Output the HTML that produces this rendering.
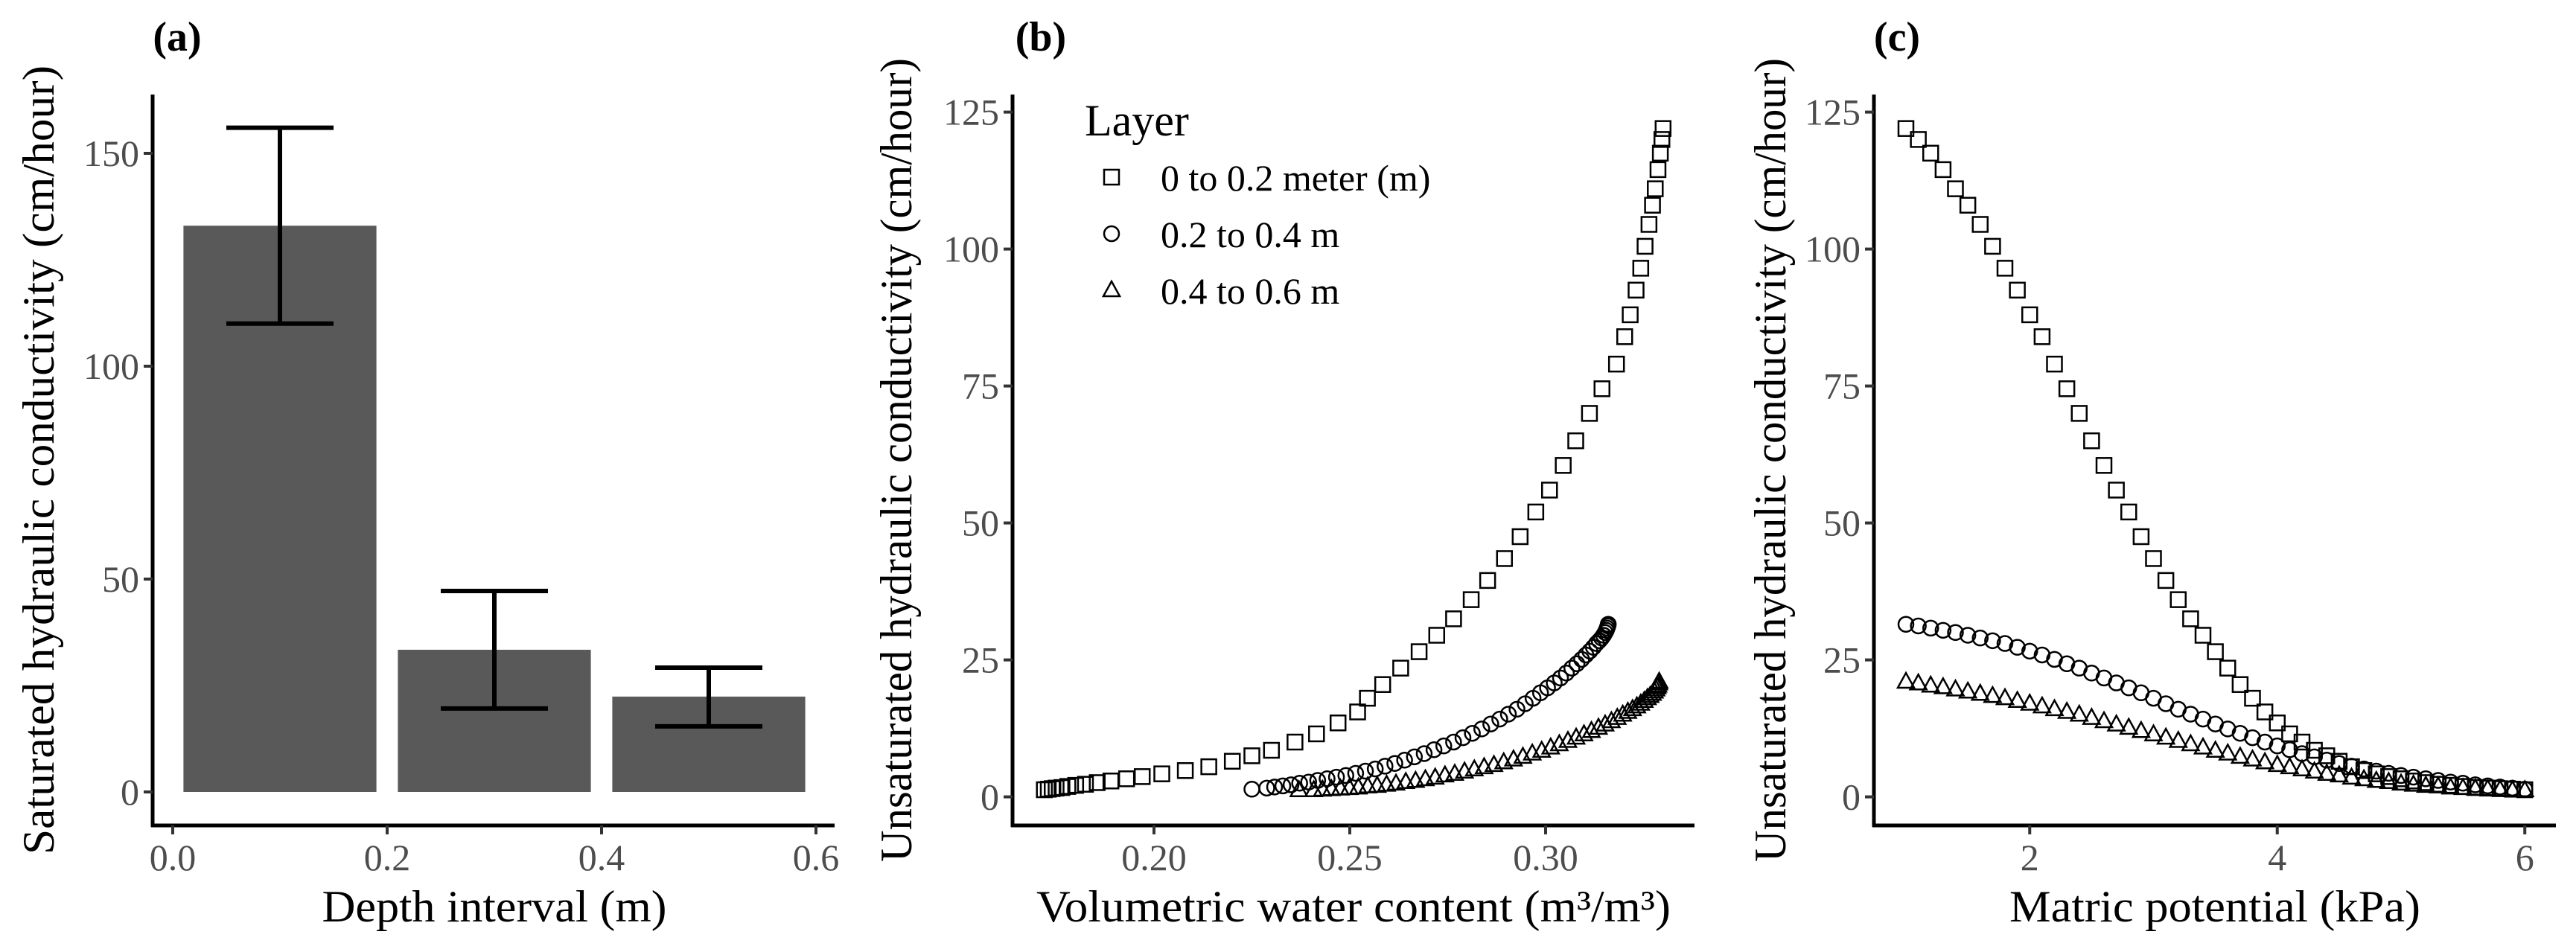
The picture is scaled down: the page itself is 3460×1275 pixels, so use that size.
<!DOCTYPE html>
<html><head><meta charset="utf-8"><style>
html,body{margin:0;padding:0;background:#fff;}
svg{display:block;}
text{font-family:"Liberation Serif",serif;}
.tick{fill:#4d4d4d;font-size:50px;}
.title{fill:#000;font-size:60px;}
</style></head><body>
<svg id="fig" width="3460" height="1275" viewBox="0 0 3460 1275" xmlns="http://www.w3.org/2000/svg"></svg>
<script>
// Panel (a) data
const depthMid = [0.1, 0.3, 0.5];
const ksatMean = [133, 33.4, 22.4];
const ksatLow = [110, 19.6, 15.4];
const ksatHigh = [156, 47.2, 29.2];
const aYTicks = [0, 50, 100, 150];
const aXTicks = [0.0, 0.2, 0.4, 0.6];
const aXTickLabels = ["0.0", "0.2", "0.4", "0.6"];

// Panels (b),(c) data
const matric = [1,1.1,1.2,1.3,1.4,1.5,1.6,1.7,1.8,1.9,2,2.1,2.2,2.3,2.4,2.5,2.6,2.7,2.8,2.9,3,3.1,3.2,3.3,3.4,3.5,3.6,3.7,3.8,3.9,4,4.1,4.2,4.3,4.4,4.5,4.6,4.7,4.8,4.9,5,5.1,5.2,5.3,5.4,5.5,5.6,5.7,5.8,5.9,6];
const kLayer1 = [122,120,117.5,114.5,111,108,104.5,100.5,96.5,92.5,88,84,79,74.5,70,65,60.5,56,52,47.5,43.5,39.5,36,32.5,29.5,26.5,23.5,20.5,18,15.5,13.5,11.5,10,8.5,7.5,6.5,5.5,4.8,4.2,3.7,3.3,2.9,2.6,2.3,2.1,1.9,1.7,1.6,1.5,1.4,1.3];
const kLayer2 = [31.5,31.2,30.8,30.4,30,29.5,29,28.5,28,27.3,26.6,25.9,25.1,24.3,23.5,22.6,21.7,20.8,19.9,19,18,17,16,15.1,14.2,13.3,12.4,11.6,10.8,10,9.3,8.6,7.9,7.3,6.7,6.1,5.6,5.1,4.7,4.3,3.9,3.6,3.3,3,2.7,2.5,2.2,2,1.8,1.6,1.4];
const kLayer3 = [21,20.7,20.3,20,19.6,19.2,18.8,18.4,18,17.5,17,16.5,16,15.5,15,14.4,13.8,13.2,12.6,12,11.4,10.8,10.2,9.6,9,8.4,7.9,7.3,6.8,6.3,5.8,5.4,5,4.6,4.2,3.9,3.5,3.2,2.9,2.7,2.4,2.2,2,1.9,1.7,1.6,1.5,1.4,1.3,1.2,1.2];
const thetaLayer1 = [0.330,0.3297,0.3293,0.3287,0.328,0.3273,0.3264,0.3254,0.3243,0.3231,0.3216,0.3202,0.3181,0.3144,0.3112,0.3077,0.3045,0.301,0.2975,0.2935,0.2895,0.2852,0.281,0.2765,0.2722,0.2677,0.263,0.2584,0.2545,0.252,0.247,0.2415,0.236,0.23,0.225,0.22,0.214,0.208,0.202,0.197,0.193,0.189,0.1855,0.1825,0.18,0.178,0.1765,0.175,0.174,0.173,0.172];
const thetaLayer2 = [0.316,0.3159,0.3157,0.3155,0.3152,0.3148,0.3143,0.3137,0.313,0.3122,0.3113,0.3103,0.3092,0.308,0.3067,0.3053,0.3038,0.3022,0.3005,0.2987,0.2968,0.2948,0.2927,0.2905,0.2883,0.286,0.2837,0.2813,0.2789,0.2765,0.274,0.2715,0.269,0.2665,0.264,0.2615,0.259,0.2565,0.254,0.2515,0.249,0.2466,0.2442,0.2418,0.2395,0.2372,0.235,0.2329,0.2308,0.2288,0.225];
const thetaLayer3 = [0.329,0.3289,0.3287,0.3285,0.3282,0.3278,0.3273,0.3267,0.326,0.3252,0.3243,0.3233,0.3222,0.321,0.3197,0.3183,0.3168,0.3152,0.3135,0.3117,0.3098,0.3078,0.3057,0.3035,0.3013,0.299,0.2966,0.2942,0.2918,0.2893,0.2868,0.2843,0.2818,0.2793,0.2768,0.2743,0.2718,0.2693,0.2668,0.2643,0.2618,0.2594,0.257,0.2546,0.2522,0.2499,0.2476,0.2453,0.243,0.2408,0.237];
const kYTicks = [0, 25, 50, 75, 100, 125];
const bXTicks = [0.20, 0.25, 0.30];
const bXTickLabels = ["0.20", "0.25", "0.30"];
const cXTicks = [2, 4, 6];
const cXTickLabels = ["2", "4", "6"];
const layerNames = ["0 to 0.2 meter (m)", "0.2 to 0.4 m", "0.4 to 0.6 m"];

const NS = "http://www.w3.org/2000/svg";
const svg = document.getElementById("fig");
function mk(tag, attrs, parent) {
  const e = document.createElementNS(NS, tag);
  for (const k in attrs) e.setAttribute(k, attrs[k]);
  (parent || svg).appendChild(e);
  return e;
}
function txt(s, attrs, parent) { const t = mk("text", attrs, parent); t.textContent = s; return t; }

// axis scales
const ya = v => 1064 - 5.72 * v;
const xa = v => 232 + 1440 * v;
const yk = v => 1070.6 - 7.36 * v;
const xb = v => 1550 + 5260 * (v - 0.20);
const xc = v => 2560 + 166.25 * (v - 1);

function axes(g, x0, yTop, xEnd, yAxis, yt, yFn, xt, xl, xFn) {
  let e;
  e = mk("line", {x1: x0, y1: yTop, x2: x0, y2: yAxis + 2, stroke: "#000", "stroke-width": 5}, g);
  
  
  e = mk("line", {x1: x0 - 2, y1: yAxis, x2: xEnd, y2: yAxis, stroke: "#000", "stroke-width": 5}, g);
  
  
  yt.forEach(v => {
    const y = yFn(v);
    mk("line", {x1: x0 - 12, y1: y, x2: x0, y2: y, stroke: "#333", "stroke-width": 4}, g);
    const t = txt(String(v), {x: x0 - 18, y: y + 17, "text-anchor": "end", class: "tick"}, g);
    
    
  });
  xt.forEach((v, i) => {
    const x = xFn(v);
    mk("line", {x1: x, y1: yAxis, x2: x, y2: yAxis + 12, stroke: "#333", "stroke-width": 4}, g);
    const t = txt(xl[i], {x: x, y: yAxis + 60, "text-anchor": "middle", class: "tick"}, g);
    
    
  });
}

// ---------- Panel a ----------
const ga = mk("g", {});


depthMid.forEach((d, i) => {
  const r = mk("rect", {x: xa(d - 0.09), y: ya(ksatMean[i]), width: xa(0.18) - xa(0), height: ya(0) - ya(ksatMean[i]), fill: "#595959"}, ga);
  
  
  const eb = mk("path", {d: `M${xa(d - 0.05)},${ya(ksatHigh[i])}H${xa(d + 0.05)}M${xa(d)},${ya(ksatHigh[i])}V${ya(ksatLow[i])}M${xa(d - 0.05)},${ya(ksatLow[i])}H${xa(d + 0.05)}`, stroke: "#000", "stroke-width": 6, fill: "none"}, ga);
  
  
});
axes(ga, 205, 127, 1121, 1109, aYTicks, ya, aXTicks, aXTickLabels, xa);
let t;
t = txt("Depth interval (m)", {x: 664, y: 1238, "text-anchor": "middle", class: "title", textLength: 463, lengthAdjust: "spacingAndGlyphs"}, ga);


t = txt("Saturated hydraulic conductivity (cm/hour)", {x: 0, y: 0, transform: "translate(72,618) rotate(-90)", "text-anchor": "middle", class: "title", textLength: 1060, lengthAdjust: "spacingAndGlyphs"}, ga);


t = txt("(a)", {x: 238, y: 68, "text-anchor": "middle", "font-size": 56, "font-weight": "bold"}, ga);



// markers
function marker(g, shape, x, y) {
  let e;
  if (shape === 0) e = mk("rect", {x: x - 10, y: y - 10, width: 20, height: 20, fill: "none", stroke: "#000", "stroke-width": 2.5}, g);
  else if (shape === 1) e = mk("circle", {cx: x, cy: y, r: 10, fill: "none", stroke: "#000", "stroke-width": 2.5}, g);
  else e = mk("path", {d: `M${x},${y - 12}L${x + 11},${y + 8}L${x - 11},${y + 8}Z`, fill: "none", stroke: "#000", "stroke-width": 2.5}, g);
  return e;
}

// ---------- Panel b ----------
const gb = mk("g", {});


axes(gb, 1360, 127, 2276, 1109, kYTicks, yk, bXTicks, bXTickLabels, xb);
[[thetaLayer1, kLayer1], [thetaLayer2, kLayer2], [thetaLayer3, kLayer3]].forEach((s, si) => {
  const g = mk("g", {}, gb);
  
  
  s[0].forEach((th, i) => {
    const m = marker(g, si, xb(th), yk(s[1][i]));
    
    
  });
});
t = txt("Volumetric water content (m\u00b3/m\u00b3)", {x: 1818, y: 1238, "text-anchor": "middle", class: "title", textLength: 852, lengthAdjust: "spacingAndGlyphs"}, gb);


t = txt("Unsaturated hydraulic conductivity (cm/hour)", {x: 0, y: 0, transform: "translate(1224,618) rotate(-90)", "text-anchor": "middle", class: "title", textLength: 1080, lengthAdjust: "spacingAndGlyphs"}, gb);


t = txt("(b)", {x: 1398, y: 68, "text-anchor": "middle", "font-size": 56, "font-weight": "bold"}, gb);


// legend
const lg = mk("g", {}, gb);


t = txt("Layer", {x: 1457, y: 182, "font-size": 60}, lg);


const legY = [242, 318, 394];
layerNames.forEach((n, i) => {
  const m = marker(lg, i, 1493, legY[i] - 4);
  
  
  const tt = txt(n, {x: 1559, y: legY[i] + 14, "font-size": 50}, lg);
  
  
});

// ---------- Panel c ----------
const gc = mk("g", {});


axes(gc, 2517, 127, 3433, 1109, kYTicks, yk, cXTicks, cXTickLabels, xc);
[kLayer1, kLayer2, kLayer3].forEach((s, si) => {
  const g = mk("g", {}, gc);
  
  
  s.forEach((k, i) => {
    const m = marker(g, si, xc(matric[i]), yk(k));
    
    
  });
});
t = txt("Matric potential (kPa)", {x: 2975, y: 1238, "text-anchor": "middle", class: "title", textLength: 552, lengthAdjust: "spacingAndGlyphs"}, gc);


t = txt("Unsaturated hydraulic conductivity (cm/hour)", {x: 0, y: 0, transform: "translate(2398,618) rotate(-90)", "text-anchor": "middle", class: "title", textLength: 1080, lengthAdjust: "spacingAndGlyphs"}, gc);


t = txt("(c)", {x: 2548, y: 68, "text-anchor": "middle", "font-size": 56, "font-weight": "bold"}, gc);


</script>
</body></html>
